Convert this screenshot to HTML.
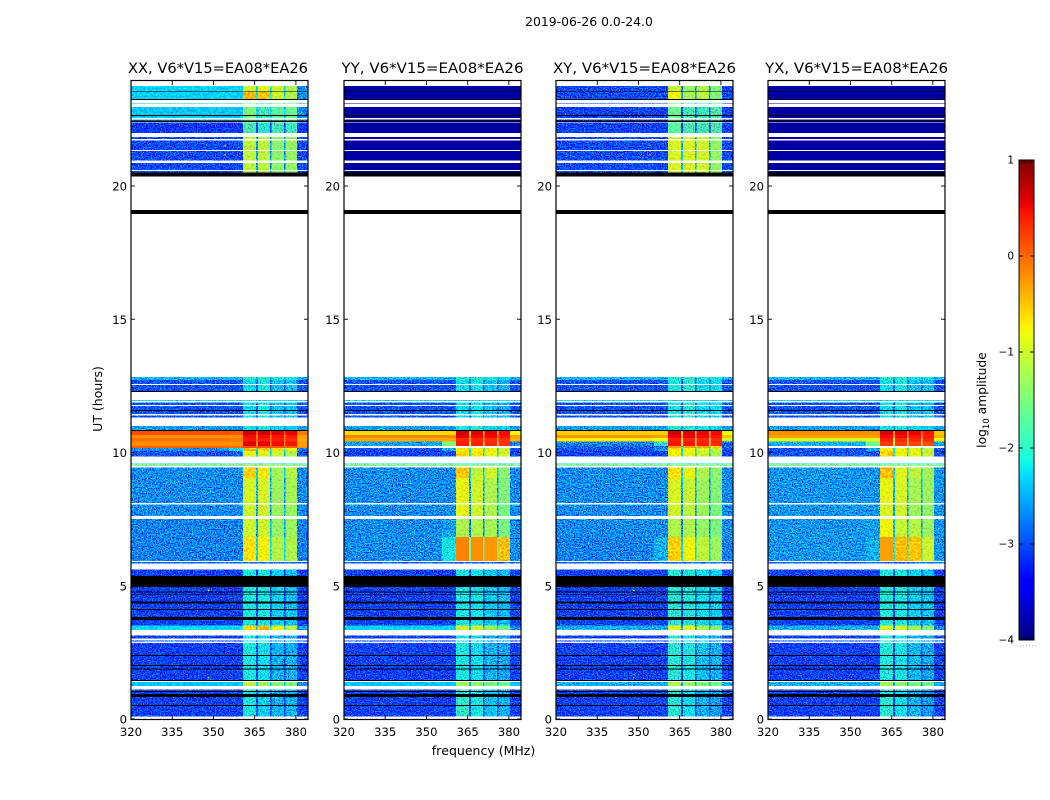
<!DOCTYPE html>
<html lang="en">
<head>
<meta charset="utf-8">
<title>2019-06-26 dynamic spectra</title>
<style>
html,body{margin:0;padding:0;background:#fff;}
svg{display:block;}
text{font-family:"DejaVu Sans","Liberation Sans",sans-serif;fill:#000;font-kerning:none;}
</style>
</head>
<body>
<svg id="chart" xmlns="http://www.w3.org/2000/svg" width="1050" height="800" viewBox="0 0 1050 800">
<defs>
<filter id="speckle0" filterUnits="objectBoundingBox" x="0" y="0" width="1" height="1" color-interpolation-filters="sRGB">
<feTurbulence type="fractalNoise" baseFrequency="0.78" numOctaves="2" seed="3" result="n"/>
<feColorMatrix in="n" type="matrix" values="0 0 0 0 .5 2.4 0 0 0 -.7 0 0 0 0 .5 0 0 0 0 1" result="g"/>
<feComposite in="SourceGraphic" in2="g" operator="arithmetic" k1="0" k2="1" k3="1" k4="-.5" result="m"/>
<feComposite in="m" in2="SourceAlpha" operator="in"/>
</filter>
<filter id="speckle1" filterUnits="objectBoundingBox" x="0" y="0" width="1" height="1" color-interpolation-filters="sRGB">
<feTurbulence type="fractalNoise" baseFrequency="0.78" numOctaves="2" seed="11" result="n"/>
<feColorMatrix in="n" type="matrix" values="0 0 0 0 .5 2.4 0 0 0 -.7 0 0 0 0 .5 0 0 0 0 1" result="g"/>
<feComposite in="SourceGraphic" in2="g" operator="arithmetic" k1="0" k2="1" k3="1" k4="-.5" result="m"/>
<feComposite in="m" in2="SourceAlpha" operator="in"/>
</filter>
<filter id="speckle2" filterUnits="objectBoundingBox" x="0" y="0" width="1" height="1" color-interpolation-filters="sRGB">
<feTurbulence type="fractalNoise" baseFrequency="0.78" numOctaves="2" seed="23" result="n"/>
<feColorMatrix in="n" type="matrix" values="0 0 0 0 .5 2.4 0 0 0 -.7 0 0 0 0 .5 0 0 0 0 1" result="g"/>
<feComposite in="SourceGraphic" in2="g" operator="arithmetic" k1="0" k2="1" k3="1" k4="-.5" result="m"/>
<feComposite in="m" in2="SourceAlpha" operator="in"/>
</filter>
<filter id="speckle3" filterUnits="objectBoundingBox" x="0" y="0" width="1" height="1" color-interpolation-filters="sRGB">
<feTurbulence type="fractalNoise" baseFrequency="0.78" numOctaves="2" seed="37" result="n"/>
<feColorMatrix in="n" type="matrix" values="0 0 0 0 .5 2.4 0 0 0 -.7 0 0 0 0 .5 0 0 0 0 1" result="g"/>
<feComposite in="SourceGraphic" in2="g" operator="arithmetic" k1="0" k2="1" k3="1" k4="-.5" result="m"/>
<feComposite in="m" in2="SourceAlpha" operator="in"/>
</filter>
<filter id="softspeckle" filterUnits="objectBoundingBox" x="0" y="0" width="1" height="1" color-interpolation-filters="sRGB">
<feTurbulence type="fractalNoise" baseFrequency="0.5" numOctaves="2" seed="7" result="n"/>
<feColorMatrix in="n" type="matrix" values="0 0 0 0 .5 2.8 0 0 0 -.9 0 0 0 0 .5 0 0 0 0 1" result="g"/>
<feComposite in="SourceGraphic" in2="g" operator="arithmetic" k1="0" k2="1" k3=".35" k4="-.175" result="m"/>
<feComposite in="m" in2="SourceAlpha" operator="in"/>
</filter>
</defs>
<text x="589" y="26" font-size="12.4" text-anchor="middle">2019-06-26 0.0-24.0</text>
<text x="483.5" y="755" font-size="12.5" text-anchor="middle">frequency (MHz)</text>
<text x="102" y="399" font-size="12.5" text-anchor="middle" transform="rotate(-90 102 399)">UT (hours)</text>
<text x="986" y="400" font-size="12.3" text-anchor="middle" transform="rotate(-90 986 400)">log<tspan font-size="8.5" dy="3">10</tspan><tspan dy="-3"> amplitude</tspan></text>
</svg>
<script>
// Time rows of the dynamic spectra (UT hours, top and bottom edge of each row); anything not covered is a white data gap.
const rowUpper = [23.75,23.55,23.52,23.26,23.11,22.96,22.66,22.63,22.50,22.45,22.38,21.84,21.70,21.31,20.86,20.56,20.51,19.10,12.83,12.72,12.53,12.31,11.97,11.88,11.74,11.59,11.56,11.39,10.99,10.84,10.81,10.66,10.54,10.41,10.24,10.17,10.06,9.59,9.53,9.44,9.04,8.05,7.50,6.83,5.89,5.61,5.37,4.95,4.78,4.75,4.68,4.65,4.41,4.33,4.13,4.09,3.83,3.71,3.51,3.13,2.95,2.85,2.40,2.36,2.03,1.99,1.90,1.86,1.46,1.39,1.11,1.05,1.01,0.94,0.83,0.53,0.49];
const rowLower = [23.55,23.52,23.26,23.23,23.09,22.66,22.63,22.55,22.46,22.40,21.99,21.76,21.35,20.96,20.60,20.51,20.36,18.95,12.72,12.57,12.31,12.27,11.93,11.78,11.59,11.56,11.44,11.31,10.84,10.81,10.66,10.54,10.41,10.24,10.17,10.06,9.85,9.55,9.49,9.04,8.11,7.62,6.83,5.93,5.84,5.37,4.95,4.78,4.75,4.68,4.65,4.41,4.33,4.13,4.09,3.83,3.71,3.51,3.34,3.02,2.91,2.40,2.36,2.03,1.99,1.90,1.86,1.46,1.43,1.24,1.05,1.01,0.94,0.83,0.53,0.49,0.09];
const rowProfile = [1,0,29,0,2,2,0,2,2,0,3,4,4,4,4,4,0,0,5,6,6,0,7,6,6,0,6,6,8,0,9,10,11,12,13,14,15,16,17,18,19,20,21,22,23,24,0,24,0,24,0,24,0,24,0,24,0,24,25,26,26,26,0,26,0,26,0,26,0,27,28,0,28,0,28,0,28];

// Frequency zones (MHz): source index into a profile entry [bg,b1,b2,b3,b4,bump,bg2]; -1 = notch between bands.
const zoneStart  = [320,355.6,360.8,365.5,366.2,370.6,371.2,375.7,376.2,380.4];
const zoneEnd    = [355.6,360.8,365.5,366.2,370.6,371.2,375.7,376.2,380.4,384.4];
const zoneSource = [0,5,1,-1,2,-1,3,-1,4,6];

// log10 amplitude per profile per panel. Single number = uniform, null = no data, -9 = black flagged rows.
const levelsXX = [-9,[-2.35,-1,-.85,-1,-1.2,-2.35,-2.7],[-2.4,-1.5,-1.85,-1.7,-1.6,-2.4,-2.7],[-3.15,-1.8,-2,-1.85,-1.9],[-3.05,-1.1,-1.1,-1.4,-1.35],[-2.5,-2,-2,-2.1,-2.1],[-3,-2.2,-2.1,-2.4,-2.4],-2.2,[-2.6,-2.1,-2.1,-2.2,-2.3],[.15,.65,.65,.6,.55,.1,-.1],[-.2,.5,.5,.45,.4,-.2,-.3],[-.05,.45,.4,.4,.3,-.1,-.35],[-.2,.6,.55,.5,.45,-.2,-.3],[.05,.2,.15,.1,.05,0,-.2],[-2.7,-.45,-.5,-.6,-.8,-2.2,-2.8],[-3,-.85,-.9,-1,-1.2,-2.9,-3],-2.2,[-1.3,-1,-1,-1,-1.2],[-2.7,-.55,-.7,-1.25,-1.15],[-2.7,-.95,-.95,-1.3,-1.25],[-2.7,-1,-1,-1.3,-1.3],[-2.75,-1,-1,-1.35,-1.3],[-2.75,-.65,-.75,-1.15,-1.2],-2.9,[-3.1,-2.1,-2.1,-2.3,-2.4],[-2.3,-.6,-.45,-.85,-1.15,-2.3,-2.6],[-3.1,-2.1,-2.2,-2.5,-2.5],[-2.4,-1.1,-1.3,-1.45,-1.5,-2.4,-2.7],[-3.1,-2.1,-2.3,-2.5,-2.5],[-2.35,-.4,-.5,-1,-1.2,-2.35,-2.7]];
const levelsYY = [-9,-3.85,-3.85,-3.85,-3.85,[-2.5,-2,-2,-2.1,-2.2],[-3,-2.2,-2.15,-2.4,-2.5],-2.2,[-2.6,-2.1,-2,-2.2,-2.3],[-.6,.65,.6,.55,.5,-.6,-.75],[-.15,.55,.5,.5,.45,-.15,-.3],[-.35,.35,.35,.3,.3,-.35,-.4],[-2.6,.4,.4,.35,.3,-1.5,-2.7],null,[-3,-.7,-.8,-.85,-1,-2.5,-3],[-3.1,-.6,-.7,-.85,-.95,-3,-3.1],-2.2,-1.3,[-2.7,-.5,-1.1,-1,-1.4],[-2.7,-.85,-1,-1.2,-1.45],[-2.7,-.85,-1,-1.2,-1.5],[-2.7,-1.2,-1.2,-1.25,-1.5,-2.6],[-2.7,-.15,-.2,-.25,-.45,-2.15],-2.9,[-3.1,-2.1,-2.15,-2.35,-2.45],[-2.35,-1,-1,-1.3,-1.5,-2.35,-2.7],[-3.1,-2.1,-2.2,-2.5,-2.55],[-2.4,-1.3,-1.4,-1.55,-1.6],[-3.1,-1.95,-2.1,-2.4,-2.5],-3.85];
const levelsXY = [-9,[-3.05,-1.05,-1.35,-1.2,-1.45],[-3.1,-1.6,-1.85,-1.9,-1.75],[-3.1,-1.7,-1.8,-1.85,-1.8],[-3.05,-.95,-.95,-1,-1.35],[-2.5,-2,-1.95,-2.05,-2.1],[-3,-2.1,-2,-2.2,-2.2],-2.2,[-2.6,-2,-2,-2.1,-2.2],[-.55,.65,.6,.55,.5,-.55,-.8],[-.25,.55,.55,.5,.45,-.3,-.5],[-.7,.4,.35,.35,.35,-.8,-1],[-2.75,.45,.45,.4,.35,-2,-2.9],[-2.9,-.3,-.3,-.4,-.5],[-3,-.7,-.75,-.9,-1.05,-2.6],[-3.1,-.75,-.85,-1,-1.2],-2.2,-1.3,[-2.7,-.65,-.85,-1.2,-1.4],[-2.7,-.95,-1.05,-1.3,-1.45],[-2.7,-1,-1.1,-1.3,-1.5],[-2.7,-1.2,-1.2,-1.35,-1.5],[-2.75,-.55,-.8,-1.1,-1.3,-2.5],-2.9,[-3.1,-2,-2.05,-2.2,-2.3],[-2.5,-.9,-.9,-1.2,-1.45,-2.5,-2.7],[-3.1,-2,-2.1,-2.4,-2.5],[-2.5,-1.2,-1.35,-1.5,-1.6],[-3.1,-2,-2.2,-2.5,-2.6],[-3.05,-.8,-1.25,-1.1,-1.45]];
const levelsYX = [-9,-3.85,-3.85,-3.85,-3.85,[-2.5,-2,-2,-2.1,-2.2],[-3,-2.2,-2.1,-2.4,-2.4],-2.2,[-2.6,-2.1,-2.1,-2.2,-2.3],[-.2,.6,.55,.55,.45,-.2,-.5],[-.3,.5,.5,.45,.4,-.3,-.4],[-.9,.4,.35,.35,.35,-.9,-.8],[-2.5,.25,.25,.2,.15,-1.6,-2.6],null,[-3,-.75,-.85,-.9,-1.1,-2.6],[-3,-.55,-.8,-.85,-1],-2.2,-1.3,[-2.65,-.45,-.9,-1.1,-1.25],[-2.65,-.85,-.95,-1.25,-1.3],[-2.65,-.95,-1,-1.3,-1.35],[-2.65,-.8,-1.05,-1.15,-1.3,-2.6],[-2.65,-.3,-.45,-.5,-1,-2.5],-2.9,[-3.1,-2.05,-2.1,-2.3,-2.4],[-2.5,-.95,-.95,-1.25,-1.45,-2.5,-2.7],[-3.1,-2.05,-2.15,-2.45,-2.55],[-2.5,-1.25,-1.4,-1.55,-1.6],[-3.1,-2,-2.2,-2.5,-2.6],-3.85];

// Isolated RFI spots: UT, MHz, level.
const spotUT    = [21.55,21.2,20.98,4.85,1.58];
const spotMHz   = [353.9,353.9,340,348,348];
const spotLevel = [-.4,-.4,-.6,-.9,-.3];

const panelTitles = ["XX, V6*V15=EA08*EA26","YY, V6*V15=EA08*EA26","XY, V6*V15=EA08*EA26","YX, V6*V15=EA08*EA26"];
const panelLevels = [levelsXX,levelsYY,levelsXY,levelsYX];
const xTicks = [320,335,350,365,380];
const yTicks = [0,5,10,15,20];
const colorbarTicks = [1,0,-1,-2,-3,-4];

const panelLeft = [131,344,556,768];
const titleWidth = [180,182,183,183];
const panelWidth = 177, axisTop = 81, axisBottom = 719;
const freqMin = 320, freqMax = 384.4, utMin = 0, utMax = 23.94;
const cbLeft = 1019, cbWidth = 15, cbTop = 160, cbBottom = 640, cbMin = -4, cbMax = 1;

const NS = "http://www.w3.org/2000/svg";
const svg = document.getElementById("chart");
function make(tag, attrs, parent){
  const el = document.createElementNS(NS, tag);
  for (const k in attrs) el.setAttribute(k, attrs[k]);
  parent.appendChild(el);
  return el;
}
function lerp(stops, t){
  for (let i = 1; i < stops.length; i++){
    if (t <= stops[i][0]){
      const a = stops[i-1], b = stops[i];
      return a[1] + (b[1]-a[1]) * (t-a[0]) / (b[0]-a[0]);
    }
  }
  return stops[stops.length-1][1];
}
const jetR = [[0,0],[.35,0],[.66,1],[.89,1],[1,.5]];
const jetG = [[0,0],[.125,0],[.375,1],[.64,1],[.91,0],[1,0]];
const jetB = [[0,.5],[.11,1],[.34,1],[.65,0],[1,0]];
function color(level){
  if (level < -5) return "#000";
  const t = Math.max(0, Math.min(1, (level - cbMin) / (cbMax - cbMin)));
  const c = s => Math.round(255 * lerp(s, t));
  return "rgb(" + c(jetR) + "," + c(jetG) + "," + c(jetB) + ")";
}
function xScale(p, mhz){ return panelLeft[p] + (mhz - freqMin) / (freqMax - freqMin) * panelWidth; }
function yScale(ut){ return axisBottom - (ut - utMin) / (utMax - utMin) * (axisBottom - axisTop); }
function cbScale(v){ return cbBottom - (v - cbMin) / (cbMax - cbMin) * (cbBottom - cbTop); }
function zoneLevel(profile, z){
  const src = zoneSource[z];
  if (src === -1){
    const mean = (profile[1] + profile[2] + profile[3] + profile[4]) / 4;
    return Math.max(profile[0], mean - 1.4);
  }
  const v = profile[src];
  return v === undefined ? profile[0] : v;
}

panelLevels.forEach(function(levels, p){
  const panel = make("g", {}, svg);
  
  
  const noisy = make("g", {filter: "url(#speckle" + p + ")"}, panel);
  
  
  const soft = make("g", {filter: "url(#softspeckle)"}, panel);
  
  
  const smooth = make("g", {}, panel);
  
  

  rowUpper.forEach(function(tTop, r){
    const y0 = yScale(tTop), y1 = yScale(rowLower[r]);
    const profile = levels[rowProfile[r]];
    if (profile === null) return;
    if (typeof profile === "number"){
      const group = (profile > -3.6 && profile < -1.7) ? noisy : smooth;
      const cell = make("rect", {x: panelLeft[p], y: y0, width: panelWidth, height: y1 - y0, fill: color(profile), "shape-rendering": "crispEdges"}, group);
      
      
      return;
    }
    zoneStart.forEach(function(f0, z){
      const level = zoneLevel(profile, z);
      const isBand = zoneSource[z] >= 1 && zoneSource[z] <= 4;
      const quietBg = !isBand && level > -2.45 && level < -2.25;
      let group = smooth;
      if (quietBg || (isBand && level >= -1.7 && level < -.3)) group = soft;
      else if (level > -3.6 && level < -1.7) group = noisy;
      const x0 = xScale(p, f0), x1 = xScale(p, zoneEnd[z]);
      const cell = make("rect", {x: x0, y: y0, width: x1 - x0, height: y1 - y0, fill: color(level), "shape-rendering": "crispEdges"}, group);
      
      
    });
  });

  if (p === 0 || p === 2){
    spotUT.forEach(function(t, i){
      const s = make("rect", {x: xScale(p, spotMHz[i]), y: yScale(t), width: 1.5, height: 1.5, fill: color(spotLevel[i])}, panel);
      
      
    });
  }

  const frame = make("rect", {x: panelLeft[p], y: axisTop - .5, width: panelWidth, height: axisBottom - axisTop + 1, fill: "none", stroke: "#000", "stroke-width": 1.2}, panel);
  
  

  const title = make("text", {x: panelLeft[p] + panelWidth / 2 - (p === 0 ? 1.5 : 0), y: 73, "font-size": 14.6, "text-anchor": "middle", textLength: titleWidth[p], lengthAdjust: "spacingAndGlyphs"}, panel);
  title.textContent = panelTitles[p];
  
  

  xTicks.forEach(function(v){
    const x = xScale(p, v);
    const bottomTick = make("line", {x1: x, x2: x, y1: axisBottom, y2: axisBottom - 4, stroke: "#000", "stroke-width": .9}, panel);
    
    
    const topTick = make("line", {x1: x, x2: x, y1: axisTop, y2: axisTop + 4, stroke: "#000", "stroke-width": .9}, panel);
    
    
    const label = make("text", {x: x, y: 736, "font-size": 11.6, "text-anchor": "middle"}, panel);
    label.textContent = v;
    
    
  });

  yTicks.forEach(function(v){
    const y = yScale(v);
    const leftTick = make("line", {x1: panelLeft[p], x2: panelLeft[p] + 4, y1: y, y2: y, stroke: "#000", "stroke-width": .9}, panel);
    
    
    const rightTick = make("line", {x1: panelLeft[p] + panelWidth, x2: panelLeft[p] + panelWidth - 4, y1: y, y2: y, stroke: "#000", "stroke-width": .9}, panel);
    
    
    const label = make("text", {x: panelLeft[p] - 4, y: y + 4.5, "font-size": 11.6, "text-anchor": "end"}, panel);
    label.textContent = v;
    
    
  });
});

// Colorbar
const cb = make("g", {}, svg);


for (let py = cbTop; py < cbBottom; py += 2){
  const v = cbMax - (py + 1 - cbTop) / (cbBottom - cbTop) * (cbMax - cbMin);
  const strip = make("rect", {x: cbLeft, y: py, width: cbWidth, height: 2, fill: color(v), "shape-rendering": "crispEdges"}, cb);
  
  
}
const cbFrame = make("rect", {x: cbLeft, y: cbTop, width: cbWidth, height: cbBottom - cbTop, fill: "none", stroke: "#000", "stroke-width": 1}, cb);


colorbarTicks.forEach(function(v){
  const y = cbScale(v);
  const left = make("line", {x1: cbLeft, x2: cbLeft + 4, y1: y, y2: y, stroke: "#000", "stroke-width": .9}, cb);
  
  
  const right = make("line", {x1: cbLeft + cbWidth, x2: cbLeft + cbWidth - 4, y1: y, y2: y, stroke: "#000", "stroke-width": .9}, cb);
  
  
  const label = make("text", {x: cbLeft - 5, y: y + 3.5, "font-size": 10.5, "text-anchor": "end"}, cb);
  label.textContent = String(v).replace("-", "\u2212");
  
  
});
[3,6,9,12].forEach(function(dx){
  const topMark = make("line", {x1: cbLeft + dx, x2: cbLeft + dx, y1: cbTop, y2: cbTop + 4, stroke: "#000", "stroke-width": .7}, cb);
  
  
  const bottomMark = make("line", {x1: cbLeft + dx, x2: cbLeft + dx, y1: cbBottom, y2: cbBottom - 4, stroke: "#000", "stroke-width": .7}, cb);
  
  
});
[-2,1,4,7,10,13,16].forEach(function(dx){
  const dot = make("rect", {x: cbLeft + dx, y: 645.5, width: 1, height: 1, fill: "#aaa"}, cb);
  
  
});
</script>
</body>
</html>
